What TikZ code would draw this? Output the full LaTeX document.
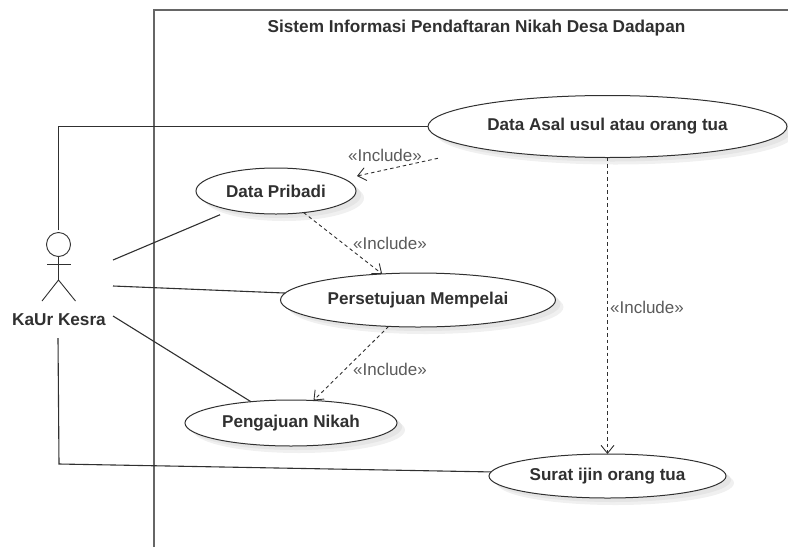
\documentclass[tikz,border=0pt]{standalone}
\usepackage{fontspec}
\setmainfont{Liberation Sans}
\usetikzlibrary{shapes.geometric,arrows.meta}
\definecolor{inkc}{HTML}{303030}
\definecolor{framec}{HTML}{666666}
\definecolor{lblc}{HTML}{5A5A5A}
\tikzset{
  usecase/.style={ellipse,draw=inkc,line width=1pt,fill=white,inner sep=0pt,outer sep=0pt,
    font=\fontsize{17.1}{20}\selectfont\bfseries,text=inkc,
    preaction={draw=none,fill=black!6,transform canvas={xshift=8pt,yshift=-7pt}},
    preaction={draw=none,fill=black!10,transform canvas={xshift=5pt,yshift=-4pt}}},
  assoc/.style={draw=inkc,line width=1.1pt},
  frameline/.style={draw=framec,line width=1.4pt},
  incl/.style={draw=inkc,line width=0.9pt,dash pattern=on 3.5pt off 3pt,
    -{Straight Barb[length=8pt,width=13pt,line width=0.9pt]}},
  incllabel/.style={font=\fontsize{17}{20}\selectfont,text=lblc,inner sep=0pt},
  limb/.style={draw=inkc,line width=0.9pt},
  titletext/.style={font=\fontsize{17.2}{20}\selectfont\bfseries,text=inkc,inner sep=0pt},
}
\begin{document}
\begin{tikzpicture}[x=1pt,y=-1pt]
\useasboundingbox (0,0) rectangle (788,547);
% system frame
\coordinate (ftl) at (154,10);
\coordinate (fbl) at (154,547);
\coordinate (ftr) at (788,10);
\draw[frameline] (fbl) -- (ftl) -- (ftr);
\node[titletext] (title) at (476.5,28) {Sistem Informasi Pendaftaran Nikah Desa Dadapan};
% actor
\node[circle,draw=inkc,line width=0.9pt,minimum size=24pt,inner sep=0pt,outer sep=0pt] (head) at (58.5,244.5) {};
\coordinate (hip) at (58.5,280);
\coordinate (armL) at (47,264.5);
\coordinate (armR) at (71,264.5);
\coordinate (legL) at (42,301);
\coordinate (legR) at (75.5,301);
\draw[limb] (head.south) -- (hip);
\draw[limb] (armL) -- (armR);
\draw[limb] (legL) -- (hip) -- (legR);
\node[font=\fontsize{17.2}{20}\selectfont\bfseries,text=inkc,inner sep=0pt] (actor) at (59,320) {KaUr Kesra};
% free ends beside the actor
\coordinate (pTop) at (58.5,230);
\coordinate (pCornerA) at (58.5,126.5);
\coordinate (pA) at (113,260);
\coordinate (pB) at (113,286);
\coordinate (pC) at (113,316);
\coordinate (pBot) at (58,338);
\coordinate (pCornerB) at (59,464);
\coordinate (tipPribadi) at (357,176);
% use cases
\node[usecase,minimum width=359pt,minimum height=62pt] (asal) at (607.5,126.5) {Data Asal usul atau orang tua};
\node[usecase,minimum width=160pt,minimum height=46pt] (pribadi) at (276,191) {Data Pribadi};
\node[usecase,minimum width=275pt,minimum height=54pt] (setuju) at (418,300) {Persetujuan Mempelai};
\node[usecase,minimum width=212pt,minimum height=46pt] (aju) at (291,423) {Pengajuan Nikah};
\node[usecase,minimum width=237pt,minimum height=44pt] (surat) at (607.5,476) {Surat ijin orang tua};
% associations
\draw[assoc] (pTop) -- (pCornerA) -- (asal.west);
\draw[assoc,shorten >=12pt] (pA) -- (pribadi.203);
\draw[assoc] (pB) -- (setuju.177);
\draw[assoc] (pC) -- (aju.152);
\draw[assoc] (pBot) -- (pCornerB) -- (surat.178);
% includes
\draw[incl,shorten <=45pt] (asal.190.8) -- (tipPribadi);
\draw[incl] (pribadi.-38.7) -- (setuju.144.6);
\draw[incl] (setuju.222) -- (aju.45);
\draw[incl] (asal.south) -- (surat.north);
\node[incllabel] at (385,155) {«Include»};
\node[incllabel] at (390,243) {«Include»};
\node[incllabel] at (390,369) {«Include»};
\node[incllabel] at (647,307) {«Include»};
\end{tikzpicture}
\end{document}
